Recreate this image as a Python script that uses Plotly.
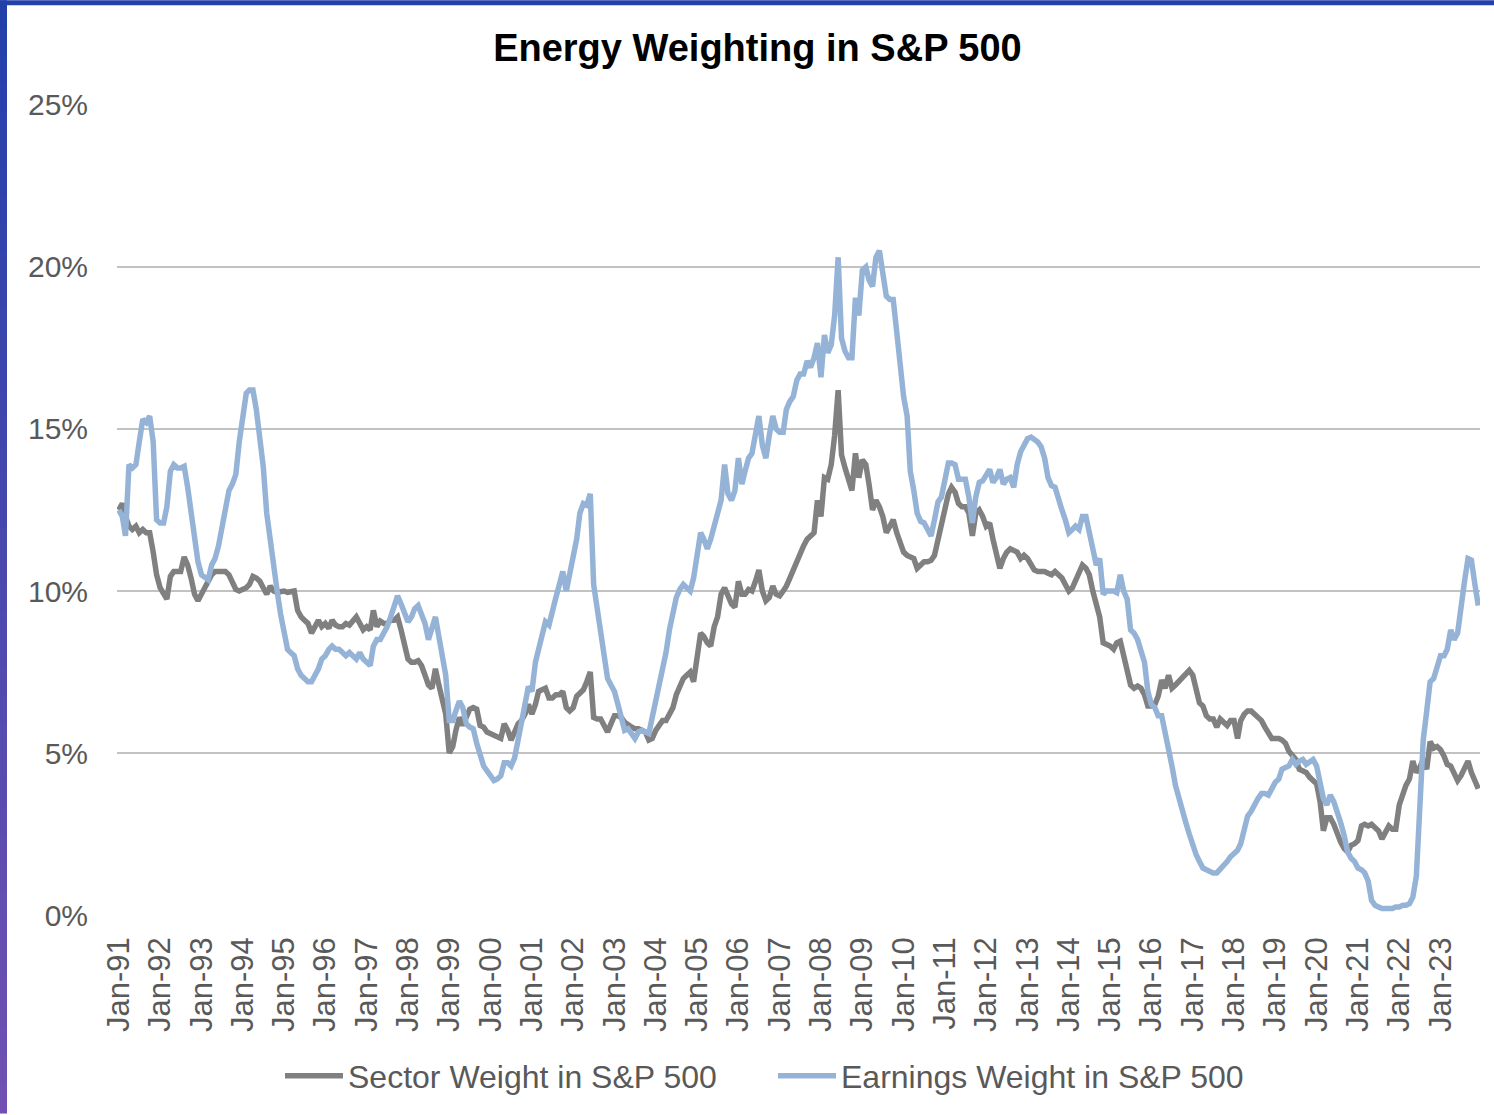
import pandas as pd
import plotly.graph_objects as go

TITLE = "Energy Weighting in S&P 500"
SECTOR_NAME = "Sector Weight in S&P 500"
EARNINGS_NAME = "Earnings Weight in S&P 500"

# monthly, Jan-91 .. Dec-23
months = pd.date_range("1991-01-01", "2023-12-01", freq="MS")

# energy sector weight in the index (%), one row per year
sector_weight = [
    12.5, 12.7, 12.3, 12.0, 11.9, 12.0, 11.8, 11.9, 11.8, 11.8, 11.2, 10.5,   # 1991
    10.1, 9.9, 9.75, 10.45, 10.6, 10.6, 10.6, 11.05, 10.8, 10.4, 9.9, 9.7,    # 1992
    9.9, 10.1, 10.35, 10.5, 10.6, 10.6, 10.6, 10.6, 10.5, 10.3, 10.05, 10.0,  # 1993
    10.05, 10.1, 10.2, 10.45, 10.4, 10.3, 10.1, 9.9, 10.15, 10.0, 9.96, 10.0, # 1994
    10.0, 9.96, 10.0, 10.0, 9.4, 9.2, 9.1, 9.0, 8.7, 8.9, 9.1, 8.9,           # 1995
    9.0, 8.85, 9.1, 8.95, 8.9, 8.9, 9.0, 8.95, 9.1, 9.2, 9.0, 8.8,            # 1996
    8.9, 8.8, 9.4, 8.9, 9.07, 9.0, 9.0, 9.1, 9.1, 9.2, 8.8, 8.4,              # 1997
    7.9, 7.8, 7.8, 7.85, 7.7, 7.4, 7.1, 7.0, 7.6, 7.1, 6.6, 6.2,              # 1998
    5.0, 5.2, 5.7, 6.1, 5.85, 6.1, 6.35, 6.4, 6.35, 5.85, 5.8, 5.65,          # 1999
    5.6, 5.55, 5.5, 5.45, 5.9, 5.7, 5.4, 5.7, 5.9, 6.0, 6.2, 6.5,             # 2000
    6.2, 6.5, 6.9, 6.95, 7.0, 6.7, 6.7, 6.8, 6.8, 6.9, 6.4, 6.3,              # 2001
    6.4, 6.75, 6.85, 6.95, 7.2, 7.5, 6.1, 6.05, 6.05, 5.8, 5.65, 5.9,         # 2002
    6.15, 6.15, 6.1, 5.95, 5.85, 5.8, 5.75, 5.75, 5.7, 5.65, 5.4, 5.45,       # 2003
    5.7, 5.9, 6.0, 6.0, 6.25, 6.4, 6.8, 7.1, 7.3, 7.4, 7.5, 7.2,              # 2004
    8.0, 8.7, 8.6, 8.4, 8.3, 8.9, 9.2, 9.9, 10.1, 9.85, 9.6, 9.5,             # 2005
    10.3, 9.9, 9.9, 10.05, 10.0, 10.3, 10.65, 10.0, 9.7, 9.8, 10.15, 9.9,     # 2006
    9.85, 10.0, 10.15, 10.4, 10.65, 11.0, 11.2, 11.4, 11.6, 11.7, 11.8, 12.8, # 2007
    12.3, 13.5, 13.45, 13.9, 14.8, 16.2, 14.2, 13.8, 13.5, 13.1, 14.25, 13.5, # 2008
    14.05, 13.9, 13.3, 12.5, 12.8, 12.6, 12.3, 11.8, 12.0, 12.2, 11.8, 11.5,  # 2009
    11.2, 11.1, 11.05, 11.0, 10.7, 10.8, 10.9, 10.9, 10.95, 11.1, 11.6, 12.1, # 2010
    12.5, 13.0, 13.2, 13.05, 12.7, 12.6, 12.6, 12.4, 11.7, 12.4, 12.5, 12.3,  # 2011
    12.0, 12.1, 11.6, 11.1, 10.7, 11.0, 11.2, 11.3, 11.25, 11.2, 11.0, 11.1,  # 2012
    11.0, 10.8, 10.65, 10.6, 10.6, 10.6, 10.55, 10.5, 10.6, 10.5, 10.4, 10.2, # 2013
    10.0, 10.1, 10.3, 10.6, 10.8, 10.7, 10.5, 10.0, 9.6, 9.2, 8.4, 8.35,      # 2014
    8.3, 8.2, 8.4, 8.45, 8.0, 7.5, 7.1, 7.0, 7.07, 7.0, 6.8, 6.45,            # 2015
    6.45, 6.5, 6.75, 7.25, 7.0, 7.4, 7.0, 7.1, 7.2, 7.3, 7.45, 7.55,          # 2016
    7.4, 6.9, 6.55, 6.45, 6.15, 6.05, 6.05, 5.8, 6.05, 5.95, 5.85, 6.0,       # 2017
    6.0, 5.45, 6.0, 6.2, 6.3, 6.3, 6.2, 6.05, 6.0, 5.8, 5.6, 5.45,            # 2018
    5.45, 5.45, 5.4, 5.3, 5.05, 4.95, 4.8, 4.5, 4.45, 4.4, 4.25, 4.15,        # 2019
    4.05, 3.5, 2.6, 3.0, 3.0, 2.8, 2.5, 2.25, 2.05, 1.95, 2.15, 2.2,          # 2020
    2.3, 2.75, 2.8, 2.75, 2.8, 2.7, 2.6, 2.35, 2.6, 2.75, 2.65, 2.65,         # 2021
    3.4, 3.75, 4.0, 4.2, 4.75, 4.4, 4.55, 4.8, 4.5, 5.35, 5.15, 5.2,          # 2022
    5.1, 4.9, 4.65, 4.6, 4.4, 4.15, 4.3, 4.55, 4.75, 4.4, 4.1, 3.9,           # 2023
]

# energy share of index earnings (%), one row per year
earnings_weight = [
    12.5, 12.3, 11.7, 13.9, 13.8, 13.9, 14.6, 15.3, 15.2, 15.4, 14.6, 12.2,   # 1991
    12.1, 12.1, 12.6, 13.7, 13.9, 13.8, 13.8, 13.85, 13.2, 12.4, 11.6, 10.9,  # 1992
    10.5, 10.4, 10.35, 10.8, 11.0, 11.4, 12.0, 12.6, 13.1, 13.3, 13.6, 14.6,  # 1993
    15.5, 16.1, 16.2, 16.2, 15.6, 14.6, 13.85, 12.4, 11.5, 10.6, 10.0, 9.3,   # 1994
    8.7, 8.2, 8.1, 8.0, 7.6, 7.4, 7.3, 7.2, 7.2, 7.4, 7.6, 7.9,               # 1995
    8.0, 8.2, 8.3, 8.2, 8.2, 8.1, 8.0, 8.1, 8.0, 7.9, 8.1, 7.9,               # 1996
    7.8, 7.7, 8.3, 8.5, 8.5, 8.7, 8.9, 9.2, 9.5, 9.85, 9.6, 9.3,              # 1997
    9.05, 9.2, 9.45, 9.55, 9.3, 9.0, 8.5, 8.8, 9.2, 8.6, 8.0, 7.4,            # 1998
    6.0, 6.0, 6.3, 6.6, 6.4, 5.9, 5.8, 5.75, 5.3, 5.0, 4.6, 4.45,             # 1999
    4.3, 4.15, 4.2, 4.3, 4.7, 4.7, 4.6, 4.85, 5.4, 6.0, 6.6, 7.05,            # 2000
    6.9, 7.8, 8.2, 8.6, 9.05, 8.95, 9.3, 9.8, 10.2, 10.6, 10.0, 10.5,         # 2001
    11.2, 11.6, 12.4, 12.7, 12.65, 13.0, 10.2, 9.4, 8.6, 8.0, 7.3, 7.1,       # 2002
    6.9, 6.5, 6.1, 5.7, 5.75, 5.6, 5.45, 5.65, 5.7, 5.65, 5.6, 6.1,           # 2003
    6.6, 7.0, 7.5, 8.1, 8.8, 9.35, 9.8, 10.05, 10.2, 10.1, 10.0, 10.4,        # 2004
    11.0, 11.8, 11.6, 11.3, 11.6, 12.0, 12.4, 12.8, 13.9, 13.0, 12.8, 13.1,   # 2005
    14.1, 13.3, 13.7, 14.1, 14.25, 14.8, 15.4, 14.5, 14.1, 14.8, 15.4, 15.0,  # 2006
    14.9, 14.9, 15.6, 15.85, 16.0, 16.5, 16.7, 16.7, 17.1, 16.9, 17.2, 17.65, # 2007
    16.6, 17.9, 17.35, 17.6, 18.5, 20.3, 17.8, 17.4, 17.2, 17.2, 19.05, 18.5, # 2008
    19.9, 20.0, 19.6, 19.4, 20.3, 20.5, 19.7, 19.1, 19.0, 19.0, 18.0, 17.0,   # 2009
    16.0, 15.4, 13.7, 13.1, 12.4, 12.15, 12.1, 11.9, 11.7, 12.2, 12.75, 12.9, # 2010
    13.4, 13.95, 13.95, 13.9, 13.45, 13.45, 13.45, 12.9, 12.1, 12.9, 13.35, 13.4, # 2011
    13.6, 13.75, 13.35, 13.5, 13.75, 13.3, 13.45, 13.5, 13.2, 13.9, 14.3, 14.5,   # 2012
    14.7, 14.75, 14.7, 14.6, 14.45, 14.1, 13.5, 13.25, 13.2, 12.8, 12.5, 12.2,    # 2013
    11.8, 11.9, 12.0, 11.9, 12.3, 12.3, 11.8, 11.3, 10.8, 11.0, 9.9, 10.0,        # 2014
    10.0, 10.0, 9.95, 10.5, 10.0, 9.75, 8.8, 8.7, 8.5, 8.1, 7.8, 6.9,             # 2015
    6.5, 6.4, 6.15, 6.15, 5.65, 5.3, 4.6, 4.0, 3.6, 3.1, 2.85, 2.5,               # 2016
    2.15, 1.85, 1.65, 1.45, 1.4, 1.35, 1.3, 1.3, 1.4, 1.5, 1.65, 1.8,             # 2017
    1.9, 2.0, 2.2, 2.6, 3.05, 3.2, 3.45, 3.6, 3.75, 3.75, 3.7, 3.9,               # 2018
    4.1, 4.2, 4.5, 4.55, 4.6, 4.8, 4.65, 4.75, 4.8, 4.65, 4.75, 4.8,              # 2019
    4.6, 4.1, 3.6, 3.4, 3.7, 3.5, 3.1, 2.85, 2.45, 1.95, 1.75, 1.65,              # 2020
    1.45, 1.4, 1.3, 1.05, 0.45, 0.3, 0.25, 0.2, 0.2, 0.2, 0.2, 0.25,              # 2021
    0.25, 0.3, 0.3, 0.35, 0.55, 1.2, 3.0, 5.4, 6.3, 7.2, 7.3, 7.7,                # 2022
    8.0, 8.0, 8.2, 8.8, 8.5, 8.7, 9.6, 10.3, 11.0, 10.95, 10.2, 9.55,             # 2023
]

y_ticks = [0, 5, 10, 15, 20, 25]
y_tick_text = ["0%", "5%", "10%", "15%", "20%", "25%"]

FONT = "Liberation Sans, Arial, sans-serif"
GRAY = "#808080"
BLUE = "#95B3D7"
TEXT = "#595959"

fig = go.Figure()
fig.add_trace(go.Scatter(
    x=months, y=sector_weight, name=SECTOR_NAME, mode="lines",
    line=dict(color=GRAY, width=5.5),
))
fig.add_trace(go.Scatter(
    x=months, y=earnings_weight, name=EARNINGS_NAME, mode="lines",
    line=dict(color=BLUE, width=5.5),
))

# frame: blue bar on top, blue->purple bar down the left edge (in paper coords of the plot area)
L, R, T, B = 117, 14, 104, 197
W, H = 1494, 1115
pw, ph = W - L - R, H - T - B


def px_x(v):
    return (v - L) / pw


def px_y(v):
    return (H - B - v) / ph


shapes = [dict(type="rect", xref="paper", yref="paper", x0=px_x(0), x1=px_x(W),
               y0=px_y(5), y1=px_y(0), fillcolor="#2240AA", line=dict(width=0), layer="above")]
n_steps = 40
top_c, bot_c = (0x22, 0x40, 0xAA), (0x70, 0x50, 0xB2)
for i in range(n_steps):
    t = i / (n_steps - 1)
    c = tuple(round(a + (b - a) * t) for a, b in zip(top_c, bot_c))
    shapes.append(dict(type="rect", xref="paper", yref="paper",
                       x0=px_x(0), x1=px_x(7),
                       y0=px_y(H * (i + 1) / n_steps + 1), y1=px_y(H * i / n_steps),
                       fillcolor="rgb(%d,%d,%d)" % c, line=dict(width=0), layer="above"))

fig.update_layout(
    width=W, height=H,
    margin=dict(l=L, r=R, t=T, b=B),
    paper_bgcolor="white", plot_bgcolor="white",
    font=dict(family=FONT, color=TEXT, size=30),
    title=dict(text="<b>%s</b>" % TITLE, font=dict(size=38, color="black"),
               x=0.507, xref="container", xanchor="center",
               y=1 - 48 / H, yref="container", yanchor="middle"),
    xaxis=dict(
        type="date",
        range=["1990-12-16", "2023-12-16"],
        tick0="1991-01-01", dtick="M12", tickformat="%b-%y",
        tickangle=-90, ticks="", showgrid=False, showline=False, zeroline=False,
        ticklabelstandoff=14,
        tickfont=dict(size=31, color=TEXT),
    ),
    yaxis=dict(
        range=[-0.03, 25.03], tickvals=y_ticks, ticktext=y_tick_text,
        showgrid=True, gridcolor="#C2C2C2", gridwidth=2,
        zeroline=False, showline=False, ticks="",
        ticklabelstandoff=28,
        tickfont=dict(size=30, color=TEXT),
    ),
    legend=dict(orientation="h", x=px_x(280), xanchor="left", y=-0.197, yanchor="middle",
                font=dict(size=32, color=TEXT), itemwidth=58, entrywidth=420,
                bgcolor="rgba(0,0,0,0)"),
    shapes=shapes,
)

fig.write_html("out.html", config={"displayModeBar": False},
               post_script="document.body.style.margin='0';")
